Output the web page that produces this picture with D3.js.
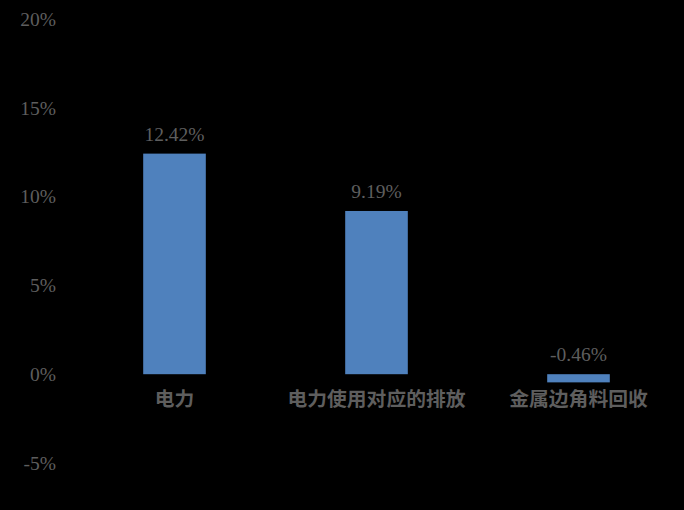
<!DOCTYPE html>
<html><head><meta charset="utf-8">
<script src="https://cdn.jsdelivr.net/npm/d3@7"></script>
<style>html,body{margin:0;padding:0;background:#000;}svg{display:block;}</style>
</head><body>
<svg id="chart" width="684" height="510"></svg>
<script>
const categories = ["电力", "电力使用对应的排放", "金属边角料回收"];
const values = [12.42, 9.19, -0.46];
const valueLabels = ["12.42%", "9.19%", "-0.46%"];
const yTicks = [-5, 0, 5, 10, 15, 20];
const yTickLabels = ["-5%", "0%", "5%", "10%", "15%", "20%"];

const svg = d3.select("#chart");
svg.append("rect").attr("width", 684).attr("height", 510).attr("fill", "#000");

const x = d3.scaleBand().domain(categories).range([73.5, 679.5]).paddingInner(0.69).paddingOuter(0.345);
const y = d3.scaleLinear().domain([-5, 20]).range([463, 19]);

const textColor = "#5e5e5e";
const serif = "'Liberation Serif','Times New Roman',serif";

const yAxis = d3.axisLeft(y).tickValues(yTicks).tickFormat((d, i) => yTickLabels[i]).tickSize(0).tickPadding(0);
const gy = svg.append("g").attr("transform", "translate(56,0)").call(yAxis);
gy.select(".domain").remove();
gy.selectAll("text").attr("fill", textColor).style("font-family", serif).style("font-size", "19.5px");

svg.append("g").selectAll("rect").data(values).join("rect")
  .attr("x", (d, i) => x(categories[i]))
  .attr("width", x.bandwidth())
  .attr("y", d => y(Math.max(d, 0)))
  .attr("height", d => Math.abs(y(d) - y(0)))
  .attr("fill", "#4f81bd");

svg.append("g").selectAll("text").data(values).join("text")
  .attr("x", (d, i) => x(categories[i]) + x.bandwidth() / 2)
  .attr("y", d => y(Math.max(d, 0)) - 13)
  .attr("text-anchor", "middle")
  .attr("fill", textColor)
  .style("font-family", serif).style("font-size", "19.5px")
  .text((d, i) => valueLabels[i]);

const xAxis = d3.axisBottom(x).tickSize(0).tickPadding(0);
const gx = svg.append("g").attr("transform", `translate(0,${y(0)})`).call(xAxis);
gx.select(".domain").remove();
gx.selectAll("text").attr("fill", textColor).attr("dy", "0")
  .attr("y", 32)
  .style("font-family", "'Noto Sans CJK SC',sans-serif").style("font-size", "19.8px").style("font-weight", "700");
</script>
</body></html>
